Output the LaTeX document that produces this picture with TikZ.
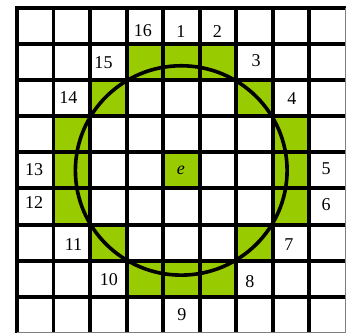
\documentclass[tikz,border=0pt]{standalone}
\usepackage{fontspec}
\setmainfont{Liberation Serif}
\definecolor{cellgreen}{RGB}{153,204,0}

\begin{document}
\begin{tikzpicture}[x=0.9955cm,y=-0.9845cm,line width=3.1pt,
  lbl/.style={font=\fontsize{14}{16}\selectfont,inner sep=0pt}]
\useasboundingbox (-0.4658,-0.2216) rectangle (9.041,9.058);
% 绿色格子
\foreach \c/\r in {3/1,4/1,5/1,2/2,6/2,1/3,7/3,1/4,4/4,7/4,1/5,7/5,2/6,6/6,3/7,4/7,5/7}
  \fill[cellgreen] (\c,\r) rectangle ++(1,1);
% 网格
\draw[line join=miter] (0,9) -- (0,0) -- (9,0);
\foreach \i in {1,...,8} {
  \draw (\i,0) -- (\i,9);
  \draw (0,\i) -- (9,\i);
}
\draw[gray,line width=0.6pt] (9,0) -- (9,9) -- (0,9);
% 圆
\draw[line width=2.8pt] (4.5,4.5) circle (2.9);
% 编号
\foreach \t/\x/\y in {16/3.45/0.63,1/4.49/0.64,2/5.49/0.64,15/2.37/1.52,3/6.55/1.47,
  14/1.41/2.49,4/7.53/2.51,13/0.47/4.49,5/8.47/4.46,12/0.47/5.40,6/8.47/5.46,
  11/1.55/6.54,7/7.45/6.56,10/2.52/7.51,8/6.38/7.59,9/4.52/8.49}
  \node[lbl] (n\t) at (\x,\y) {\t};
\node[lbl] (e) at (4.49,4.49) {\textit{e}};
\end{tikzpicture}
\end{document}
